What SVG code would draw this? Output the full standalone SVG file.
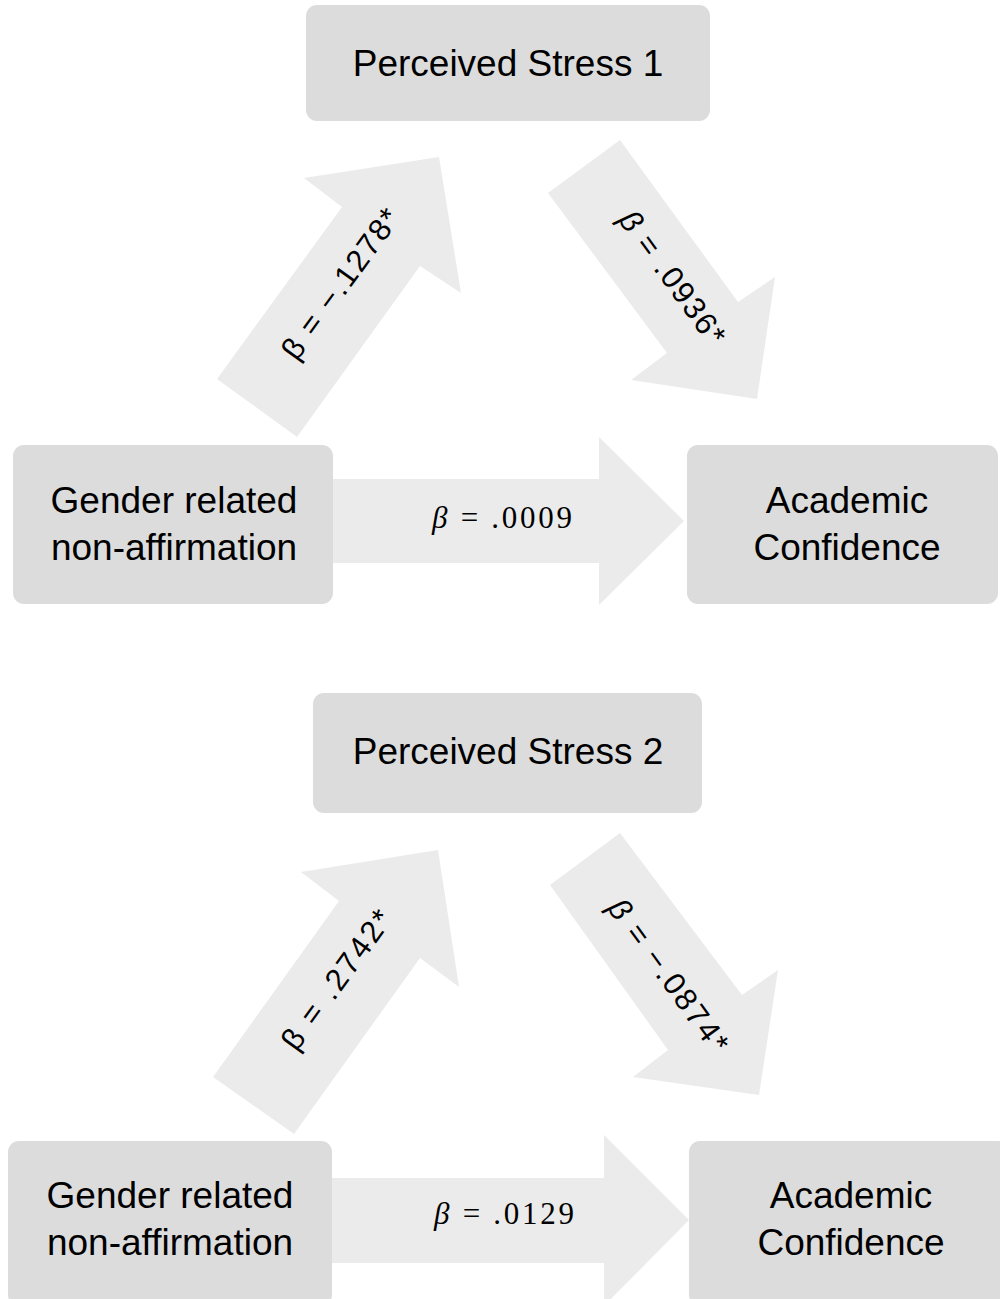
<svg xmlns="http://www.w3.org/2000/svg" width="1000" height="1299" viewBox="0 0 1000 1299">
<style>
.box{fill:#dcdcdc}
.arr{fill:#ebebeb}
.lbl{font-family:"Liberation Sans",Arial,sans-serif;font-size:37px;fill:#000;text-anchor:middle}
.b{font-family:"Liberation Sans",Arial,sans-serif;font-size:31px;fill:#000;text-anchor:middle}
.h{font-family:"Liberation Serif","Times New Roman",serif;font-size:31px;fill:#000;text-anchor:middle}
.it{font-style:italic}
</style>
<rect width="1000" height="1299" fill="#fff"/>
<g id="connectors">
  <g id="e1">
    <polygon class="arr" points="217,379 342,207 304,178 439,157 461,293 420,266 297,437"/>
    <text class="b" transform="translate(341,284) rotate(-54)" y="10" textLength="178" lengthAdjust="spacing">β = −.1278*</text>
  </g>
  <g id="e2">
    <polygon class="arr" points="548,193 620,140 738,302 775,277 757,399 631,380 667,353"/>
    <text class="b" transform="translate(672,278) rotate(54)" y="10" textLength="158" lengthAdjust="spacing"><tspan class="it">β</tspan> = .0936*</text>
  </g>
  <g id="e3">
    <polygon class="arr" points="333,479 599,479 599,437 684,521 599,605 599,563 333,563"/>
    <text class="h" x="502" y="528" textLength="140" lengthAdjust="spacing"><tspan class="it">β</tspan> = .0009</text>
  </g>
  <g id="e4">
    <polygon class="arr" points="213,1077 339,901 301,872 438,850 459,987 420,958 294,1134"/>
    <text class="b" transform="translate(337,980) rotate(-54)" y="10" textLength="165" lengthAdjust="spacing">β = .2742*</text>
  </g>
  <g id="e5">
    <polygon class="arr" points="550,885 620,833 742,995 778,970 759,1095 633,1077 668,1050"/>
    <text class="b" transform="translate(668,976) rotate(54)" y="10" textLength="182" lengthAdjust="spacing"><tspan class="it">β</tspan> = −.0874*</text>
  </g>
  <g id="e6">
    <polygon class="arr" points="332,1178 604,1178 604,1135 689,1220 604,1306 604,1263 332,1263"/>
    <text class="h" x="504" y="1224" textLength="140" lengthAdjust="spacing"><tspan class="it">β</tspan> = .0129</text>
  </g>
</g>
<g id="ps1">
  <rect class="box" x="306" y="5" width="404" height="116" rx="11"/>
  <text class="lbl" x="508" y="76">Perceived Stress 1</text>
</g>
<g id="gender1">
  <rect class="box" x="13" y="445" width="320" height="159" rx="11"/>
  <text class="lbl" x="174" y="513">Gender related</text>
  <text class="lbl" x="174" y="560">non-affirmation</text>
</g>
<g id="acad1">
  <rect class="box" x="687" y="445" width="311" height="159" rx="11"/>
  <text class="lbl" x="847" y="513">Academic</text>
  <text class="lbl" x="847" y="560">Confidence</text>
</g>
<g id="ps2">
  <rect class="box" x="313" y="693" width="389" height="120" rx="11"/>
  <text class="lbl" x="508" y="764">Perceived Stress 2</text>
</g>
<g id="gender2">
  <rect class="box" x="8" y="1141" width="324" height="165" rx="11"/>
  <text class="lbl" x="170" y="1208">Gender related</text>
  <text class="lbl" x="170" y="1255">non-affirmation</text>
</g>
<g id="acad2">
  <rect class="box" x="689" y="1141" width="320" height="165" rx="11"/>
  <text class="lbl" x="851" y="1208">Academic</text>
  <text class="lbl" x="851" y="1255">Confidence</text>
</g>
</svg>
